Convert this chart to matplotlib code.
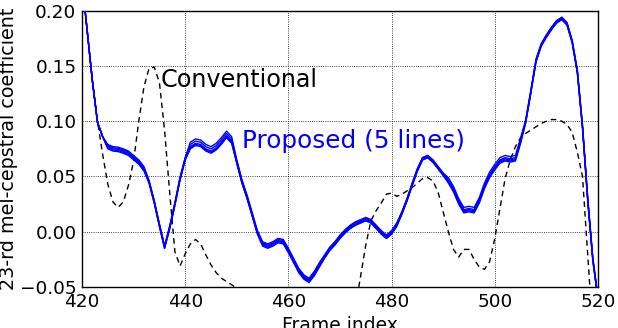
import numpy as np
import matplotlib
matplotlib.use("Agg")
import matplotlib.pyplot as plt

frames = np.arange(420, 521)

# Proposed (base trajectory), one value per frame 420..520
proposed_base = [
    0.227, 0.182, 0.137, 0.099, 0.086, 0.077, 0.075, 0.0745, 0.073, 0.071,   # 420-429
    0.067, 0.063, 0.057, 0.045, 0.027, 0.006, -0.014, 0.004, 0.025, 0.048,   # 430-439
    0.066, 0.077, 0.080, 0.079, 0.075, 0.073, 0.076, 0.081, 0.087, 0.082,    # 440-449
    0.063, 0.045, 0.031, 0.015, -0.001, -0.011, -0.013, -0.011, -0.008, -0.009,  # 450-459
    -0.017, -0.026, -0.035, -0.041, -0.044, -0.038, -0.030, -0.023, -0.016, -0.011,  # 460-469
    -0.005, 0.000, 0.004, 0.007, 0.009, 0.011, 0.009, 0.004, -0.001, -0.005,  # 470-479
    -0.001, 0.006, 0.017, 0.029, 0.043, 0.056, 0.066, 0.068, 0.064, 0.058,   # 480-489
    0.052, 0.046, 0.038, 0.027, 0.019, 0.020, 0.019, 0.028, 0.041, 0.051,    # 490-499
    0.058, 0.064, 0.066, 0.065, 0.066, 0.082, 0.100, 0.127, 0.155, 0.169,    # 500-509
    0.177, 0.184, 0.190, 0.193, 0.188, 0.172, 0.145, 0.095, 0.030, -0.025,   # 510-519
    -0.060,                                                                  # 520
]

# Spread of the 5 proposed lines (offsets in 1e-3 units), per frame segment
spread_segments = [
    # (first frame, last frame, offsets of lines 1..5)
    (420, 424, [0, 0, 0, 0, 0]),
    (425, 432, [0, 1, -1, 2, -2]),
    (433, 440, [0, 1, -1, 1, -1]),
    (441, 449, [0, 2, -1, 4, -2]),
    (450, 454, [0, 1, -1, 2, -1]),
    (455, 466, [0, 1, -1, 2, -2]),
    (467, 481, [0, 1, -1, 2, -1]),
    (482, 490, [0, 1, -1, 1, -1]),
    (491, 505, [0, 1, -1, 3, -2]),
    (506, 520, [0, 1, -1, 1, -1]),
]

# Conventional, one value per frame 420..520
conventional = [
    0.227, 0.182, 0.137, 0.100, 0.070, 0.043, 0.027, 0.022, 0.027, 0.042,   # 420-429
    0.064, 0.100, 0.131, 0.148, 0.149, 0.135, 0.092, 0.035, -0.018, -0.031,  # 430-439
    -0.020, -0.011, -0.007, -0.011, -0.021, -0.030, -0.037, -0.042, -0.045, -0.048,  # 440-449
    -0.051, -0.056, -0.062, -0.068, -0.072, -0.076, -0.080, -0.084, -0.087, -0.089,  # 450-459
    -0.091, -0.093, -0.095, -0.097, -0.098, -0.098, -0.097, -0.095, -0.093, -0.090,  # 460-469
    -0.087, -0.083, -0.078, -0.068, -0.040, -0.012, 0.010, 0.019, 0.026, 0.034,  # 470-479
    0.035, 0.032, 0.034, 0.037, 0.040, 0.044, 0.048, 0.049, 0.046, 0.036,    # 480-489
    0.018, 0.000, -0.016, -0.023, -0.016, -0.016, -0.025, -0.032, -0.034, -0.027,  # 490-499
    -0.006, 0.021, 0.048, 0.065, 0.077, 0.085, 0.089, 0.092, 0.095, 0.098,   # 500-509
    0.100, 0.1015, 0.1015, 0.100, 0.097, 0.090, 0.072, 0.050, -0.020, -0.090,  # 510-519
    -0.150,                                                                  # 520
]

xticks = [420, 440, 460, 480, 500, 520]
yticks = [-0.05, 0.00, 0.05, 0.10, 0.15, 0.20]

# Build the 5 proposed lines
base = np.array(proposed_base)
offsets = np.zeros((5, len(frames)))
for f0, f1, offs in spread_segments:
    sel = (frames >= f0) & (frames <= f1)
    for k in range(5):
        offsets[k, sel] = offs[k] / 1000.0
proposed_lines = [base + offsets[k] for k in range(5)]

plt.rcParams['font.family'] = ['DejaVu Sans']
fig = plt.figure(figsize=(6.18, 3.28), dpi=100)
ax = fig.add_axes([0.1327, 0.125, 0.8349, 0.8424])

ax.plot(frames, conventional, color='black', linestyle='--', linewidth=1.0,
        dashes=(4, 3), zorder=2)
for line in proposed_lines:
    ax.plot(frames, line, color='#0000ff', linewidth=1.0, zorder=3)

ax.set_xlim(420, 520)
ax.set_ylim(-0.05, 0.20)
ax.set_xticks(xticks)
ax.set_yticks(yticks)
ax.set_yticklabels([f"{v:.2f}".replace('-', '\u2212') for v in yticks])
ax.tick_params(axis='both', which='both', length=0, labelsize=13.3, pad=4)
ax.grid(True, color='black', linestyle=':', linewidth=0.6)
for s in ax.spines.values():
    s.set_linewidth(1.0)

ax.text(435.3, 0.131, 'Conventional', fontsize=17.2, color='black', va='baseline')
ax.text(451.1, 0.0758, 'Proposed (5 lines)', fontsize=17.8, color='#0000ff', va='baseline')

ax.set_xlabel('Frame index', fontsize=13.5, labelpad=4)
ax.set_ylabel('23-rd mel-cepstral coefficient', fontsize=13.8, labelpad=1)

fig.savefig('out.png', dpi=100)
